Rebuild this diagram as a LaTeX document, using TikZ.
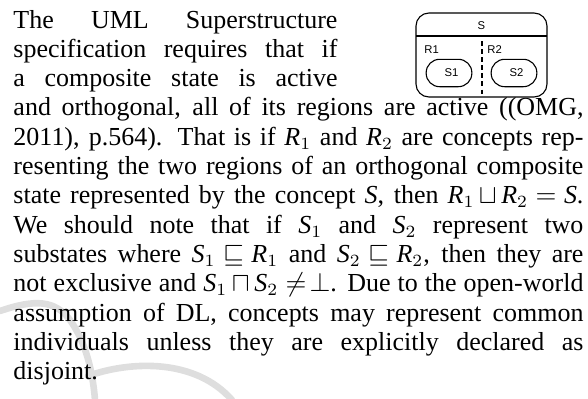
\documentclass[tikz,border=0pt]{standalone}
\usepackage{fontspec}
\setmainfont{Liberation Serif}
\newfontfamily\figfont{Liberation Sans}
\newcommand\mi[1]{\mathit{#1}}
\newcommand\fixmath{\thickmuskip=5mu\relax\medmuskip=4mu\relax\thinmuskip=3mu\relax}
\newcommand\fullline[1]{\makebox[232.56pt][s]{\fixmath #1}}
\newcommand\shortline[1]{\makebox[132.2pt][s]{#1}}
\begin{document}
\begin{tikzpicture}[x=0.408pt,y=-0.408pt,
  txt/.style={anchor=base west, inner sep=0pt, font=\fontsize{10.6}{12}\selectfont},
  ustate/.style={draw, line width=0.45pt, rounded corners=5.3pt, inner sep=0pt,
    minimum width=53.45pt, minimum height=34.27pt},
  substate/.style={draw, line width=0.45pt, rounded corners=5.5pt, inner sep=0pt,
    minimum width=18.65pt, minimum height=11.18pt},
  figtext/.style={inner sep=0pt, font=\figfont\fontsize{4.6}{5}\selectfont},
  wmark/.style={draw=black!13, line width=2.7pt, line cap=round}]
\useasboundingbox (0,0) rectangle (588,398);
% watermark strokes
\draw[wmark] (0,311) .. controls (35,299) and (55,300) .. (70,320)
  .. controls (82,337) and (92,362) .. (95,400);
\draw[wmark] (88,376) .. controls (130,361) and (195,358) .. (232,400);
% UML state diagram
\node[ustate] (S) at (481.5,55) {};
\coordinate (hl) at (416,36);
\coordinate (hr) at (547,36);
\draw[line width=0.45pt] (hl) -- (hr);
\node[figtext] (Slbl) at (481.5,26) {S};
\coordinate (dtop) at (482,41);
\coordinate (dbot) at (482,97);
\draw[line width=0.45pt, dash pattern=on 2pt off 1.3pt] (dtop) -- (dbot);
\node[figtext, anchor=west] (R1) at (424,50) {R1};
\node[figtext, anchor=west] (R2) at (487,50) {R2};
\node[substate] (S1) at (449,73) {};
\node[substate] (S2) at (514,73) {};
\node[figtext] (S1l) at (451.5,73) {S1};
\node[figtext] (S2l) at (516.5,73) {S2};
% body text
\node[txt] (l1) at (13,28.0) {\shortline{The UML Superstructure}};
\node[txt] (l2) at (13,57.3) {\shortline{specification requires that if}};
\node[txt] (l3) at (13,86.6) {\shortline{a composite state is active}};
\node[txt] (l4) at (13,115.9) {\fullline{and orthogonal, all of its regions are active ((OMG,}};
\node[txt] (l5) at (13,145.2) {\fullline{2011), p.564). That is if $\mi{R}_1$ and $\mi{R}_2$ are concepts rep-}};
\node[txt] (l6) at (13,174.5) {\fullline{resenting the two regions of an orthogonal composite}};
\node[txt] (l7) at (13,203.8) {\fullline{state represented by the concept $\mi{S}$, then $\mi{R}_1\,{\sqcup}\,\mi{R}_2 = \mi{S}$.}};
\node[txt] (l8) at (13,233.1) {\fullline{We should note that if $\mi{S}_1$ and $\mi{S}_2$ represent two}};
\node[txt] (l9) at (13,262.4) {\fullline{substates where $\mi{S}_1 \sqsubseteq \mi{R}_1$ and $\mi{S}_2 \sqsubseteq \mi{R}_2$, then they are}};
\node[txt] (l10) at (13,291.7) {\fullline{not exclusive and $\mi{S}_1\,{\sqcap}\,\mi{S}_2 \neq\!\bot$. Due to the open-world}};
\node[txt] (l11) at (13,321.0) {\fullline{assumption of DL, concepts may represent common}};
\node[txt] (l12) at (13,350.3) {\fullline{individuals unless they are explicitly declared as}};
\node[txt] (l13) at (13,379.6) {disjoint.};
\end{tikzpicture}
\end{document}
